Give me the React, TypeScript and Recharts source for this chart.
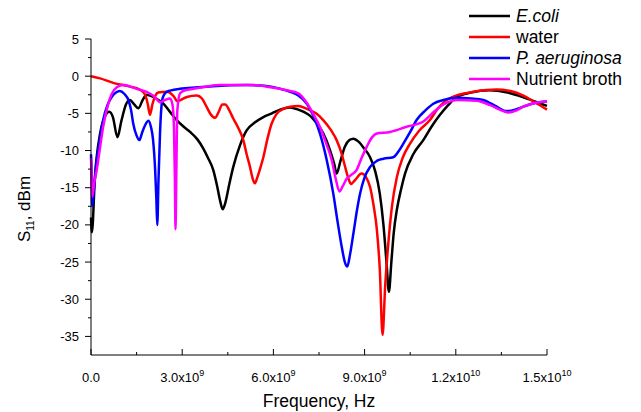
import { LineChart, Line, XAxis, YAxis, Legend } from 'recharts'

// frequency in GHz, S11 in dBm
const ecoli = [
  [0, -19], [0.03, -21], [0.13, -13.5], [0.3, -7.7], [0.45, -5.5], [0.6, -4.8], [0.72, -5.5],
  [0.87, -8.2], [1.0, -6], [1.15, -3.8], [1.28, -3.2], [1.42, -3.8], [1.56, -4.3], [1.7, -3.2],
  [1.83, -2.5], [2.1, -2.9], [2.38, -3.7], [2.6, -4.8], [2.82, -5.9], [3.05, -6.8], [3.26, -7.5],
  [3.5, -8.5], [3.69, -9.7], [3.85, -11], [4.02, -12.6], [4.15, -14.8], [4.25, -16.8], [4.33, -17.9],
  [4.42, -17], [4.55, -14.5], [4.68, -12.2], [4.9, -9.3], [5.12, -7.3], [5.4, -6.2], [5.67, -5.5],
  [5.95, -5], [6.22, -4.5], [6.55, -4.2], [6.82, -4.5], [7.0, -4.8], [7.2, -5.3], [7.45, -6.5],
  [7.64, -7.7], [7.85, -9.8], [8.0, -11.8], [8.08, -13.1], [8.2, -11.5], [8.35, -9.5], [8.5, -8.6],
  [8.63, -8.4], [8.8, -8.8], [9.0, -9.8], [9.18, -10.9], [9.35, -12.8], [9.5, -15.8], [9.62, -20],
  [9.72, -25], [9.8, -29], [9.88, -25], [9.96, -21], [10.06, -18], [10.2, -15.2], [10.33, -13.1],
  [10.6, -10.5], [10.93, -8.6], [11.2, -6.8], [11.48, -5.2], [11.75, -3.9], [12.03, -2.8],
  [12.5, -2.2], [13.1, -1.9], [13.7, -2.2], [14.2, -2.8], [14.6, -3.4], [15.0, -4.0],
]

const water = [
  [0, 0], [0.3, -0.3], [0.73, -0.9], [1.28, -1.4], [1.6, -1.8], [1.78, -2.5], [1.87, -3.8],
  [1.94, -5.2], [2.02, -3.8], [2.12, -2.6], [2.21, -2.2], [2.49, -2.1], [2.7, -2.6], [2.85, -3.4],
  [2.95, -3.2], [3.15, -2.8], [3.48, -2.6], [3.65, -3.0], [3.8, -4.1], [3.95, -5.2], [4.08, -5.6],
  [4.2, -4.8], [4.32, -3.8], [4.42, -3.8], [4.55, -4.6], [4.68, -5.7], [4.85, -7.0], [5.01, -8.6],
  [5.12, -10.5], [5.23, -12.2], [5.32, -13.8], [5.39, -14.4], [5.48, -13.5], [5.58, -12.2],
  [5.67, -10.9], [5.8, -8.5], [5.94, -6.4], [6.1, -5.1], [6.33, -4.4], [6.55, -4.1], [6.82, -4.0],
  [7.1, -4.4], [7.4, -5.0], [7.64, -5.9], [7.9, -7.3], [8.08, -8.6], [8.25, -10.5], [8.36, -12.2],
  [8.47, -13.8], [8.55, -14.5], [8.68, -14.0], [8.9, -13.1], [9.05, -13.6], [9.18, -14.9],
  [9.3, -17.5], [9.4, -20.5], [9.5, -26], [9.59, -34.8], [9.68, -28], [9.78, -22.5], [9.9, -17.5],
  [10.06, -13.6], [10.25, -11], [10.49, -9.1], [10.8, -7.3], [11.15, -5.9], [11.4, -4.4],
  [11.7, -3.2], [12.1, -2.5], [12.58, -2.1], [13.34, -1.8], [13.8, -2.0], [14.22, -2.6],
  [14.6, -3.5], [15.0, -4.5],
]

const aeruginosa = [
  [0, -10.5], [0.02, -13], [0.04, -17.5], [0.1, -15], [0.19, -11.3], [0.3, -8.3], [0.4, -5.9],
  [0.55, -3.8], [0.68, -2.8], [0.82, -2.2], [0.95, -2.0], [1.1, -2.4], [1.23, -3.2], [1.32, -4.6],
  [1.39, -6.4], [1.5, -8.0], [1.59, -8.6], [1.68, -7.6], [1.78, -6.6], [1.89, -6.0], [1.97, -6.8],
  [2.04, -8.5], [2.11, -12.6], [2.15, -16.5], [2.18, -20], [2.22, -14], [2.27, -7.7], [2.31, -4.5],
  [2.36, -2.9], [2.49, -2.1], [2.93, -1.7], [3.5, -1.5], [4.0, -1.35], [5.12, -1.2], [5.7, -1.3],
  [6.22, -1.7], [6.55, -2.1], [6.82, -2.6], [7.1, -3.7], [7.3, -5.2], [7.53, -7.7], [7.75, -11.2],
  [7.97, -15.8], [8.12, -19.8], [8.25, -23], [8.35, -25], [8.43, -25.6], [8.52, -24], [8.63, -21.2],
  [8.75, -18], [8.85, -15.8], [9.0, -13.6], [9.18, -12.2], [9.4, -11.4], [9.62, -11.1],
  [9.94, -10.9], [10.1, -10.2], [10.27, -9.1], [10.5, -7.5], [10.71, -5.9], [11.0, -4.6],
  [11.26, -3.7], [11.6, -3.2], [12.03, -2.9], [12.5, -3.0], [12.9, -3.2], [13.3, -4.0],
  [13.67, -4.7], [13.95, -4.5], [14.22, -4.1], [14.6, -3.6], [15.0, -3.4],
]

const broth = [
  [0, -11], [0.02, -14], [0.04, -16.2], [0.1, -14.5], [0.19, -12.6], [0.3, -9.5], [0.4, -6.8],
  [0.55, -4.0], [0.68, -2.4], [0.85, -1.5], [1.06, -1.2], [1.3, -1.4], [1.5, -1.7], [1.83, -2.1],
  [2.0, -2.5], [2.1, -2.8], [2.27, -3.5], [2.43, -3.2], [2.6, -3.0], [2.68, -3.8], [2.73, -7],
  [2.76, -14], [2.78, -20.6], [2.81, -12], [2.84, -4.6], [2.93, -2.3], [3.1, -1.9], [3.37, -1.7],
  [3.8, -1.4], [4.24, -1.2], [5.34, -1.2], [5.9, -1.5], [6.44, -1.9], [6.82, -2.3], [7.1, -3.6],
  [7.3, -5.0], [7.53, -6.8], [7.75, -9.2], [7.92, -11.3], [8.05, -13.8], [8.17, -15.5],
  [8.28, -14.8], [8.41, -13.8], [8.55, -13.3], [8.74, -12.6], [8.9, -11.0], [9.07, -9.5],
  [9.25, -8.2], [9.4, -7.7], [9.84, -7.5], [10.38, -6.8], [10.93, -6.1], [11.2, -5.1],
  [11.48, -4.1], [11.75, -3.5], [12.03, -3.2], [12.69, -3.3], [13.13, -3.9], [13.45, -4.5],
  [13.73, -4.9], [14.0, -4.6], [14.22, -4.1], [14.6, -3.6], [15.0, -3.4],
]

const xTicks = [0, 1.5, 3, 4.5, 6, 7.5, 9, 10.5, 12, 13.5, 15]
const xLabels: Record<number, [string, string]> = {
  0: ['0.0', ''],
  3: ['3.0x10', '9'],
  6: ['6.0x10', '9'],
  9: ['9.0x10', '9'],
  12: ['1.2x10', '10'],
  15: ['1.5x10', '10'],
}
const yTicks = [5, 2.5, 0, -2.5, -5, -7.5, -10, -12.5, -15, -17.5, -20, -22.5, -25, -27.5, -30, -32.5, -35]

const series = [
  { name: 'E.coli', color: '#000000', italic: true, data: ecoli },
  { name: 'water', color: '#ff0000', italic: false, data: water },
  { name: 'P. aeruginosa', color: '#0000ff', italic: true, data: aeruginosa },
  { name: 'Nutrient broth', color: '#ff00ff', italic: false, data: broth },
]

const FONT = '"Liberation Sans", Arial, sans-serif'

function XTick({ x, y, payload }: any) {
  const lab = xLabels[payload.value]
  return (
    <g>
      <line x1={x} x2={x} y1={y} y2={y - (lab ? 6 : 3)} stroke="#000" />
      {lab && (
        <text x={x} y={y + 27} textAnchor="middle" fontSize={13} fontFamily={FONT} fill="#000">
          {lab[0]}
          {lab[1] && <tspan dy={-6} fontSize={9}>{lab[1]}</tspan>}
        </text>
      )}
    </g>
  )
}

function YTick({ x, y, payload }: any) {
  const major = payload.value % 5 === 0
  return (
    <g>
      <line x1={x} x2={x - (major ? 6 : 3)} y1={y} y2={y} stroke="#000" />
      {major && (
        <text x={x - 12} y={y} dy="0.35em" textAnchor="end" fontSize={13} fontFamily={FONT} fill="#000">
          {payload.value}
        </text>
      )}
    </g>
  )
}

function LegendBox() {
  return (
    <svg width={181} height={92} style={{ fontFamily: FONT }}>
      {series.map((s, i) => (
        <g key={s.name}>
          <line x1={9} x2={50} y1={16 + i * 21} y2={16 + i * 21} stroke={s.color} strokeWidth={2.5} />
          <text x={56} y={16 + i * 21} dy="0.35em" fontSize={17.5} fontStyle={s.italic ? 'italic' : 'normal'} fill="#000">
            {s.name}
          </text>
        </g>
      ))}
    </svg>
  )
}

export default function App() {
  return (
    <div style={{ position: 'absolute', left: 0, top: 0, background: '#fff' }}>
      <LineChart width={641} height={412} margin={{ top: 39, right: 94, bottom: 5, left: 31 }}>
        <XAxis
          type="number"
          dataKey="f"
          domain={[0, 15]}
          ticks={xTicks}
          interval={0}
          tickSize={0}
          tickMargin={0}
          tickLine={false}
          tick={<XTick />}
          height={52}
          axisLine={{ stroke: '#000' }}
          allowDuplicatedCategory={false}
          label={{
            content: ({ viewBox }: any) => (
              <text x={viewBox.x + viewBox.width / 2} y={viewBox.y + 52} textAnchor="middle" fontSize={17.5} fontFamily={FONT} fill="#000">
                Frequency, Hz
              </text>
            ),
          }}
        />
        <YAxis
          type="number"
          domain={[-37.5, 5]}
          ticks={yTicks}
          interval={0}
          tickSize={0}
          tickMargin={0}
          tickLine={false}
          tick={<YTick />}
          width={60}
          axisLine={{ stroke: '#000' }}
          label={{
            content: ({ viewBox }: any) => {
              const cx = viewBox.x - 1
              const cy = viewBox.y + viewBox.height / 2 + 12
              return (
                <text x={cx} y={cy} transform={`rotate(-90, ${cx}, ${cy})`} textAnchor="middle" fontSize={17} fontFamily={FONT} fill="#000">
                  S<tspan dy={4} fontSize={10}>11</tspan>
                  <tspan dy={-4}>, dBm</tspan>
                </text>
              )
            },
          }}
        />
        <Legend
          layout="vertical"
          align="center"
          verticalAlign="middle"
          content={() => <LegendBox />}
          wrapperStyle={{ position: 'absolute', top: 0, left: 460, width: 181 }}
        />
        {series.map((s) => (
          <Line
            key={s.name}
            name={s.name}
            data={s.data.map(([f, v]) => ({ f, s: v }))}
            dataKey="s"
            type="monotone"
            stroke={s.color}
            strokeWidth={2.5}
            dot={false}
            activeDot={false}
            isAnimationActive={false}
          />
        ))}
      </LineChart>
    </div>
  )
}
